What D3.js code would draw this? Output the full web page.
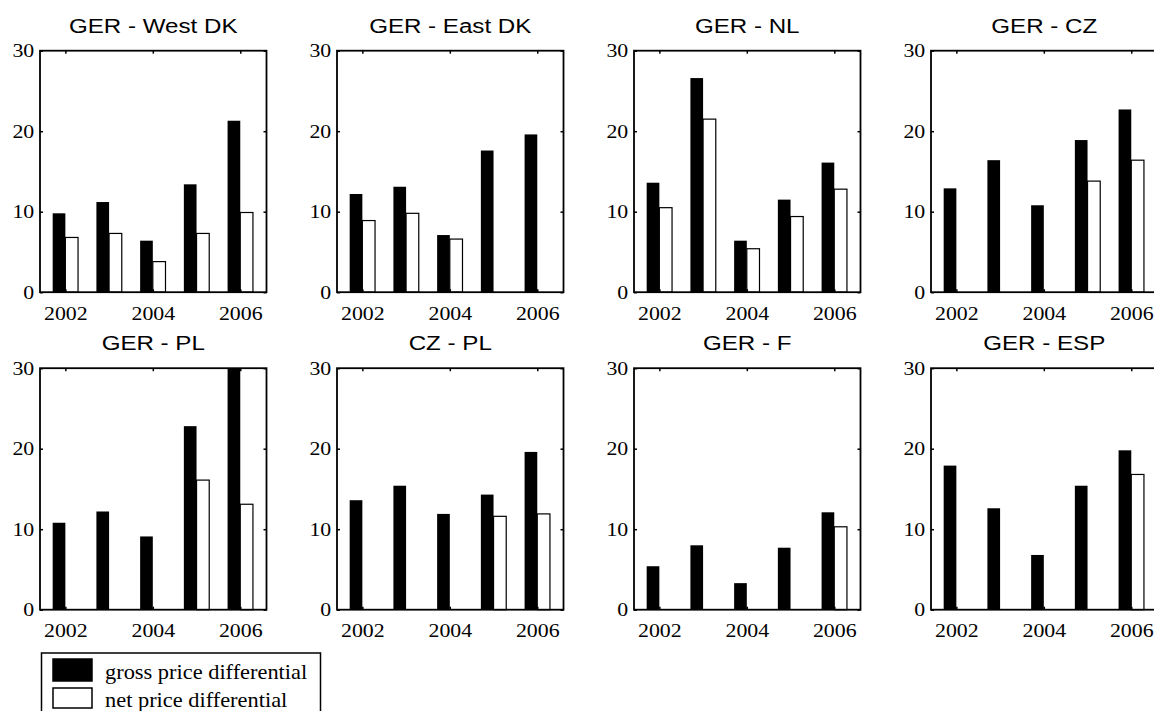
<!DOCTYPE html>
<html>
<head>
<meta charset="utf-8">
<script src="https://cdn.jsdelivr.net/npm/d3@7"></script>
<style>
  body { margin: 0; background: #fff; }
  svg { display: block; }
  .tick line { stroke: #000; stroke-width: 1.5; }
  .tick text { font-family: "Liberation Serif", "Times New Roman", serif; font-size: 19px; fill: #000; }
</style>
</head>
<body>
<div id="chart"></div>
<script>
const years = [2002, 2003, 2004, 2005, 2006];
const yearTicks = [2002, 2004, 2006];
const valueTicks = [0, 10, 20, 30];
const titles = ["GER - West DK", "GER - East DK", "GER - NL", "GER - CZ",
                "GER - PL", "CZ - PL", "GER - F", "GER - ESP"];
// gross price differential, one row per panel
const gross = [
  [9.8, 11.2, 6.4, 13.4, 21.3],
  [12.2, 13.1, 7.1, 17.6, 19.6],
  [13.6, 26.6, 6.4, 11.5, 16.1],
  [12.9, 16.4, 10.8, 18.9, 22.7],
  [10.8, 12.2, 9.1, 22.8, 30],
  [13.6, 15.4, 11.9, 14.3, 19.6],
  [5.4, 8.0, 3.3, 7.7, 12.1],
  [17.9, 12.6, 6.8, 15.4, 19.8]
];
// net price differential
const net = [
  [6.8, 7.3, 3.8, 7.3, 9.9],
  [8.9, 9.8, 6.6, 0, 0],
  [10.5, 21.5, 5.4, 9.4, 12.8],
  [0, 0, 0, 13.8, 16.4],
  [0, 0, 0, 16.1, 13.1],
  [0, 0, 0, 11.6, 11.9],
  [0, 0, 0, 0, 10.3],
  [0, 0, 0, 0, 16.8]
];
const legendLabels = ["gross price differential", "net price differential"];
const legendFills = ["#000", "#fff"];

const width = 1154;
const height = 711;
const w = 226.5, h = 241.5;
const stretch = "scale(1.15,1)";

const svg = d3.select('#chart')
  .append('svg')
  .attr('width', width)
  .attr('height', height);

const x = d3.scaleLinear().domain([2001.42, 2006.6]).range([0, w]);
const y = d3.scaleLinear().domain([0, 30]).range([h, 0]);
const bw = (x(2003) - x(2002)) * 0.29;

titles.forEach((title, i) => {
  const col = i % 4, row = Math.floor(i / 4);
  const g = svg.append('g')
    .attr('transform', `translate(${40 + col * 297},${50.7 + row * 317.5})`);

  const gd = years.map((yr, j) => ({year: yr, v: gross[i][j]})).filter(d => d.v > 0);
  const nd = years.map((yr, j) => ({year: yr, v: net[i][j]})).filter(d => d.v > 0);

  g.append('g').selectAll('rect').data(gd).join('rect')
    .attr('x', d => x(d.year) - bw)
    .attr('y', d => y(d.v))
    .attr('width', bw)
    .attr('height', d => y(0) - y(d.v))
    .attr('fill', '#000');

  g.append('g').selectAll('rect').data(nd).join('rect')
    .attr('x', d => x(d.year))
    .attr('y', d => y(d.v))
    .attr('width', bw)
    .attr('height', d => y(0) - y(d.v))
    .attr('fill', '#fff')
    .attr('stroke', '#000')
    .attr('stroke-width', 1.2);

  // axes with inward ticks on all four sides
  const left = g.append('g')
    .call(d3.axisLeft(y).tickValues(valueTicks).tickSize(-3).tickPadding(5));
  const bottom = g.append('g').attr('transform', `translate(0,${h})`)
    .call(d3.axisBottom(x).tickValues(yearTicks).tickSize(-3).tickPadding(14).tickFormat(d3.format('d')));
  g.append('g').attr('transform', `translate(${w},0)`)
    .call(d3.axisRight(y).tickValues(valueTicks).tickSize(-3).tickFormat(''));
  g.append('g')
    .call(d3.axisTop(x).tickValues(yearTicks).tickSize(-3).tickFormat(''));

  g.selectAll('.domain').remove();
  [left, bottom].forEach(a => a.selectAll('text').attr('transform', stretch));

  g.append('rect')
    .attr('width', w).attr('height', h)
    .attr('fill', 'none')
    .attr('stroke', '#000')
    .attr('stroke-width', 1.8);

  g.append('text')
    .attr('transform', `translate(${w / 2},-18) ${stretch}`)
    .attr('text-anchor', 'middle')
    .style('font-family', '"Liberation Sans", Arial, sans-serif')
    .style('font-size', '21px')
    .text(title);
});

// legend
const legend = svg.append('g');
legend.append('rect')
  .attr('x', 41.5).attr('y', 653)
  .attr('width', 279).attr('height', 80)
  .attr('fill', '#fff').attr('stroke', '#000').attr('stroke-width', 1.5);

const items = legend.selectAll('g.item').data(legendLabels).join('g')
  .attr('class', 'item')
  .attr('transform', (d, i) => `translate(53,${659 + i * 29})`);
items.append('rect')
  .attr('width', 39).attr('height', (d, i) => i === 0 ? 22 : 20)
  .attr('fill', (d, i) => legendFills[i])
  .attr('stroke', '#000').attr('stroke-width', 1.5);
items.append('text')
  .attr('transform', (d, i) => `translate(52,${i === 0 ? 20 : 19}) scale(1.12,1)`)
  .style('font-family', '"Liberation Serif", "Times New Roman", serif')
  .style('font-size', '20px')
  .text(d => d);
</script>
</body>
</html>
